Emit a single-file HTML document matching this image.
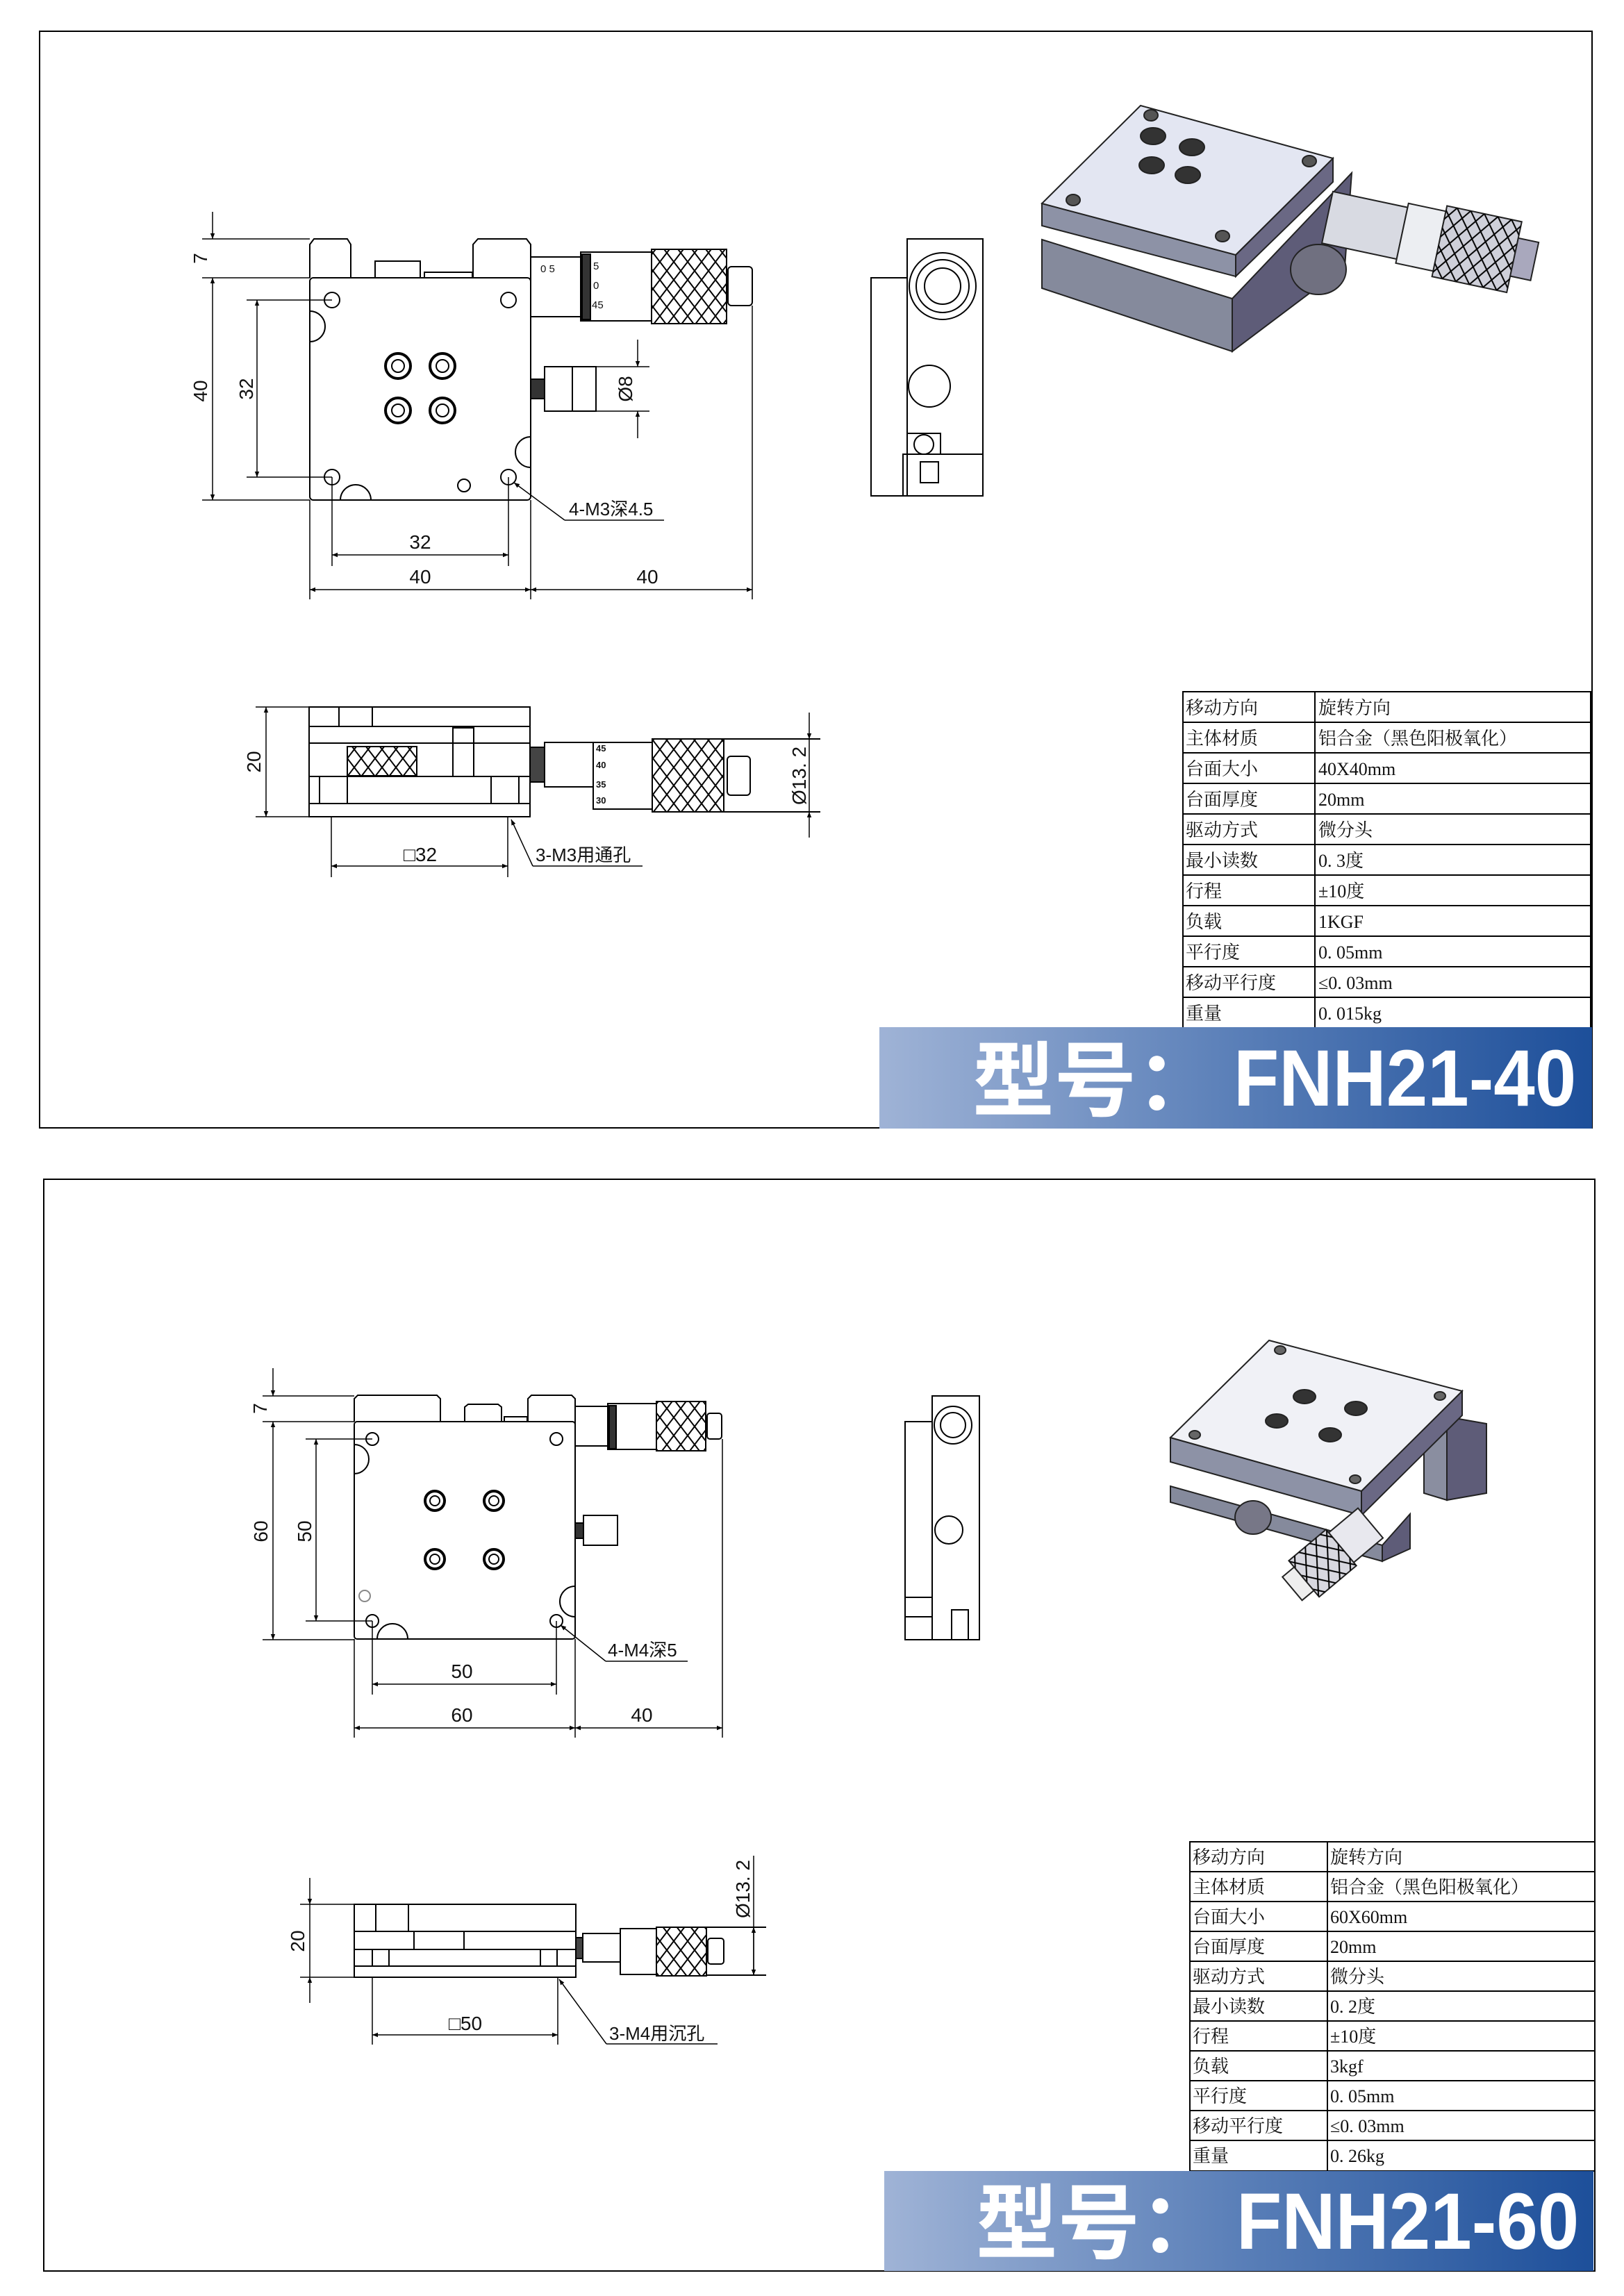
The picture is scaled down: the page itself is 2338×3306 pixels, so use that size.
<!DOCTYPE html>
<html><head><meta charset="utf-8"><style>
html,body{margin:0;padding:0;background:#fff}
svg{display:block}
.t{font-family:"Liberation Sans","Noto Sans CJK SC",sans-serif;fill:#111}
.c{font-family:"Liberation Serif","Noto Serif CJK SC",serif;font-size:26px;fill:#111}
.b{font-family:"Liberation Sans","Noto Sans CJK SC",sans-serif;font-weight:bold;fill:#fff}
</style></head><body>
<svg width="2338" height="3306" viewBox="0 0 2338 3306" xmlns="http://www.w3.org/2000/svg">
<defs>
<linearGradient id="g" x1="0" x2="1" y1="0" y2="0"><stop offset="0" stop-color="#9fb3d6"/><stop offset="0.5" stop-color="#5a7fb8"/><stop offset="1" stop-color="#1d4f9a"/></linearGradient>
<marker id="a" viewBox="0 0 10 10" refX="10" refY="5" markerWidth="12" markerHeight="8" orient="auto-start-reverse" markerUnits="userSpaceOnUse"><path d="M0,1 L10,5 L0,9 z" fill="#000"/></marker>
<pattern id="k" width="20" height="26" patternUnits="userSpaceOnUse"><path d="M0,0 L20,26 M20,0 L0,26" stroke="#000" stroke-width="2"/></pattern>
</defs>
<g fill="none" stroke="#000" stroke-width="2">
<rect x="57" y="45" width="2235" height="1579"/>
<rect x="63" y="1698" width="2233" height="1572"/>
</g>

<!-- ===== FRAME 1 top view ===== -->
<g fill="none" stroke="#000" stroke-width="2">
<path d="M446,400 V352 L452,344 H500 L505,352 V400"/>
<path d="M681,400 V352 L688,344 H758 L764,352 V400"/>
<rect x="540" y="376" width="65" height="24"/>
<rect x="611" y="392" width="69" height="8"/>
<rect x="446" y="400" width="318" height="320" rx="5"/>
<circle cx="478" cy="432" r="11"/><circle cx="732" cy="432" r="11"/>
<circle cx="478" cy="687" r="11"/><circle cx="732" cy="687" r="11"/>
<circle cx="668" cy="699" r="9"/>
<path d="M446,448 A22,22 0 0 1 446,492"/>
<path d="M764,629 A22,22 0 0 0 764,673"/>
<path d="M490,720 A22,22 0 0 1 534,720"/>
<g stroke-width="4"><circle cx="573" cy="527" r="18"/><circle cx="637" cy="527" r="18"/><circle cx="573" cy="591" r="18"/><circle cx="637" cy="591" r="18"/></g>
<g><circle cx="573" cy="527" r="9"/><circle cx="637" cy="527" r="9"/><circle cx="573" cy="591" r="9"/><circle cx="637" cy="591" r="9"/></g>
<rect x="764" y="370" width="72" height="86"/>
<rect x="836" y="363" width="102" height="99"/>
<rect x="838" y="366" width="12" height="94" fill="#333"/>
<rect x="938" y="359" width="108" height="107" fill="url(#k)"/>
<rect x="1048" y="384" width="35" height="56" rx="5"/>
<rect x="784" y="528" width="74" height="64"/>
<line x1="824" y1="528" x2="824" y2="592"/>
<rect x="764" y="546" width="20" height="28" fill="#333"/>
</g>
<g class="t" font-size="15"><text x="778" y="392">0 5</text><text x="854" y="388">5</text><text x="854" y="416">0</text><text x="852" y="444">45</text></g>
<g fill="none" stroke="#000" stroke-width="1.5">
<line x1="291" y1="344" x2="446" y2="344"/><line x1="291" y1="400" x2="446" y2="400"/><line x1="291" y1="720" x2="446" y2="720"/>
<line x1="306" y1="305" x2="306" y2="344" marker-end="url(#a)"/>
<line x1="306" y1="400" x2="306" y2="720" marker-start="url(#a)" marker-end="url(#a)"/>
<line x1="355" y1="432" x2="478" y2="432"/><line x1="355" y1="687" x2="478" y2="687"/>
<line x1="370" y1="432" x2="370" y2="687" marker-start="url(#a)" marker-end="url(#a)"/>
<line x1="478" y1="687" x2="478" y2="815"/><line x1="732" y1="687" x2="732" y2="815"/>
<line x1="478" y1="799" x2="732" y2="799" marker-start="url(#a)" marker-end="url(#a)"/>
<line x1="446" y1="720" x2="446" y2="863"/><line x1="764" y1="720" x2="764" y2="863"/><line x1="1083" y1="440" x2="1083" y2="863"/>
<line x1="446" y1="849" x2="764" y2="849" marker-start="url(#a)" marker-end="url(#a)"/>
<line x1="764" y1="849" x2="1083" y2="849" marker-start="url(#a)" marker-end="url(#a)"/>
<line x1="858" y1="528" x2="935" y2="528"/><line x1="858" y1="592" x2="935" y2="592"/>
<line x1="918" y1="489" x2="918" y2="528" marker-end="url(#a)"/>
<line x1="918" y1="631" x2="918" y2="592" marker-end="url(#a)"/>
<line x1="813" y1="749" x2="740" y2="695" marker-end="url(#a)"/><line x1="813" y1="749" x2="956" y2="749"/>
</g>
<g class="t" font-size="28">
<text transform="translate(298,372) rotate(-90)" text-anchor="middle">7</text>
<text transform="translate(298,563) rotate(-90)" text-anchor="middle">40</text>
<text transform="translate(364,560) rotate(-90)" text-anchor="middle">32</text>
<text transform="translate(910,560) rotate(-90)" text-anchor="middle">Ø8</text>
<text x="605" y="790" text-anchor="middle">32</text>
<text x="605" y="840" text-anchor="middle">40</text>
<text x="932" y="840" text-anchor="middle">40</text>
<text x="819" y="742" font-size="26">4-M3深4.5</text>
</g>
<g fill="none" stroke="#000" stroke-width="2">
<rect x="1254" y="400" width="52" height="314"/>
<rect x="1306" y="344" width="109" height="370"/>
<circle cx="1357" cy="412" r="48"/><circle cx="1357" cy="412" r="38"/><circle cx="1357" cy="412" r="26"/>
<circle cx="1338" cy="556" r="30"/>
<rect x="1306" y="624" width="48" height="30"/><circle cx="1330" cy="640" r="14"/>
<rect x="1300" y="654" width="115" height="60"/>
<rect x="1325" y="665" width="26" height="30"/>
</g>
<g stroke="#222" stroke-width="2">
<polygon points="1500,345 1774,430 1774,506 1500,415" fill="#858a9c"/>
<polygon points="1774,430 1946,249 1936,384 1774,506" fill="#5e5c78"/>
<polygon points="1500,293 1779,367 1779,398 1500,325" fill="#8d92a6"/>
<polygon points="1919,228 1919,262 1779,398 1779,367" fill="#6a6884"/>
<polygon points="1642,152 1919,228 1779,367 1500,293" fill="#e3e6f2"/>
<g transform="translate(1911,313) rotate(12)">
<rect x="0" y="-38" width="110" height="76" fill="#d8dae2"/>
<rect x="110" y="-44" width="55" height="88" fill="#eceef2"/>
<rect x="165" y="-52" width="110" height="104" fill="#cfd0da"/>
<rect x="165" y="-52" width="110" height="104" fill="url(#k)" stroke="none"/>
<rect x="275" y="-28" width="30" height="56" fill="#a9a8bd"/>
</g>
<ellipse cx="1898" cy="388" rx="40" ry="36" fill="#707080"/>
<ellipse cx="1658" cy="238" rx="18" ry="12" fill="#333"/><ellipse cx="1710" cy="252" rx="18" ry="12" fill="#333"/>
<ellipse cx="1660" cy="196" rx="18" ry="12" fill="#333"/><ellipse cx="1716" cy="212" rx="18" ry="12" fill="#333"/>
<ellipse cx="1545" cy="288" rx="10" ry="8" fill="#555"/><ellipse cx="1885" cy="232" rx="10" ry="8" fill="#555"/>
<ellipse cx="1657" cy="166" rx="10" ry="8" fill="#555"/><ellipse cx="1760" cy="340" rx="10" ry="8" fill="#555"/>
</g>

<g fill="none" stroke="#000" stroke-width="2">
<rect x="445" y="1018" width="318" height="158"/>
<line x1="445" y1="1046" x2="763" y2="1046"/><line x1="445" y1="1070" x2="763" y2="1070"/>
<line x1="445" y1="1118" x2="763" y2="1118"/><line x1="445" y1="1157" x2="763" y2="1157"/>
<line x1="488" y1="1018" x2="488" y2="1046"/><line x1="536" y1="1018" x2="536" y2="1046"/>
<rect x="460" y="1118" width="40" height="39"/><rect x="707" y="1118" width="40" height="39"/>
<rect x="500" y="1075" width="100" height="42" fill="url(#k)"/>
<rect x="652" y="1048" width="30" height="70"/>
<rect x="763" y="1076" width="21" height="50" fill="#444"/>
<rect x="784" y="1069" width="70" height="64"/>
<rect x="854" y="1069" width="85" height="96"/>
<rect x="939" y="1064" width="103" height="105" fill="url(#k)"/>
<rect x="1047" y="1089" width="33" height="56" rx="5"/>
<line x1="1042" y1="1064" x2="1181" y2="1064"/><line x1="1042" y1="1169" x2="1181" y2="1169"/>
</g>
<g class="t" font-size="13" font-weight="bold"><text x="858" y="1082">45</text><text x="858" y="1106">40</text><text x="858" y="1134">35</text><text x="858" y="1157">30</text></g>
<g fill="none" stroke="#000" stroke-width="1.5">
<line x1="368" y1="1018" x2="445" y2="1018"/><line x1="368" y1="1176" x2="445" y2="1176"/>
<line x1="383" y1="1018" x2="383" y2="1176" marker-start="url(#a)" marker-end="url(#a)"/>
<line x1="1165" y1="1026" x2="1165" y2="1064" marker-end="url(#a)"/>
<line x1="1165" y1="1206" x2="1165" y2="1169" marker-end="url(#a)"/>
<line x1="1165" y1="1064" x2="1165" y2="1169"/>
<line x1="477" y1="1176" x2="477" y2="1263"/><line x1="731" y1="1176" x2="731" y2="1263"/>
<line x1="477" y1="1247" x2="731" y2="1247" marker-start="url(#a)" marker-end="url(#a)"/>
<line x1="767" y1="1247" x2="736" y2="1180" marker-end="url(#a)"/><line x1="767" y1="1247" x2="925" y2="1247"/>
</g>
<g class="t" font-size="28">
<text transform="translate(375,1097) rotate(-90)" text-anchor="middle">20</text>
<text transform="translate(1160,1117) rotate(-90)" text-anchor="middle">Ø13. 2</text>
<text x="605" y="1240" text-anchor="middle">□32</text>
<text x="771" y="1240" font-size="26">3-M3用通孔</text>
</g>

<g fill="none" stroke="#000" stroke-width="2">
<rect x="1703" y="996" width="587" height="484"/>
<line x1="1893" y1="996" x2="1893" y2="1480"/>
<path d="M1703,1040H2290M1703,1084H2290M1703,1128H2290M1703,1172H2290M1703,1216H2290M1703,1260H2290M1703,1304H2290M1703,1348H2290M1703,1392H2290M1703,1436H2290"/>
</g>
<g class="c">
<text x="1707" y="1028">移动方向</text><text x="1898" y="1028">旋转方向</text>
<text x="1707" y="1072">主体材质</text><text x="1898" y="1072">铝合金（黑色阳极氧化）</text>
<text x="1707" y="1116">台面大小</text><text x="1898" y="1116">40X40mm</text>
<text x="1707" y="1160">台面厚度</text><text x="1898" y="1160">20mm</text>
<text x="1707" y="1204">驱动方式</text><text x="1898" y="1204">微分头</text>
<text x="1707" y="1248">最小读数</text><text x="1898" y="1248">0. 3度</text>
<text x="1707" y="1292">行程</text><text x="1898" y="1292">±10度</text>
<text x="1707" y="1336">负载</text><text x="1898" y="1336">1KGF</text>
<text x="1707" y="1380">平行度</text><text x="1898" y="1380">0. 05mm</text>
<text x="1707" y="1424">移动平行度</text><text x="1898" y="1424">≤0. 03mm</text>
<text x="1707" y="1468">重量</text><text x="1898" y="1468">0. 015kg</text>
</g>
<rect x="1266" y="1479" width="1026" height="146" fill="url(#g)"/>
<text class="b" x="1400" y="1598" font-size="118">型号：</text>
<text class="b" x="1776" y="1592" font-size="115" transform="translate(1776,0) scale(0.93,1) translate(-1776,0)">FNH21-40</text>

<!-- ===== FRAME 2 ===== -->
<g fill="none" stroke="#000" stroke-width="2">
<path d="M510,2047 V2014 L515,2009 H629 L634,2014 V2047"/>
<path d="M760,2047 V2014 L765,2009 H823 L828,2014 V2047"/>
<path d="M669,2047 V2026 L674,2022 H717 L722,2026 V2047"/>
<rect x="726" y="2040" width="33" height="7"/>
<rect x="510" y="2047" width="318" height="313" rx="4"/>
<circle cx="536" cy="2072" r="9"/><circle cx="801" cy="2072" r="9"/>
<circle cx="536" cy="2334" r="9"/><circle cx="801" cy="2334" r="9"/>
<circle cx="525" cy="2298" r="8" stroke="#888"/>
<path d="M510,2080 A21,21 0 0 1 510,2122"/>
<path d="M828,2284 A22,22 0 0 0 828,2328"/>
<path d="M543,2360 A22,22 0 0 1 587,2360"/>
<g stroke-width="4"><circle cx="626" cy="2161" r="14"/><circle cx="711" cy="2161" r="14"/><circle cx="626" cy="2245" r="14"/><circle cx="711" cy="2245" r="14"/></g>
<g><circle cx="626" cy="2161" r="7"/><circle cx="711" cy="2161" r="7"/><circle cx="626" cy="2245" r="7"/><circle cx="711" cy="2245" r="7"/></g>
<rect x="828" y="2025" width="47" height="57"/>
<rect x="875" y="2021" width="70" height="66"/>
<rect x="877" y="2024" width="10" height="62" fill="#333"/>
<rect x="945" y="2018" width="71" height="71" fill="url(#k)"/>
<rect x="1018" y="2035" width="21" height="37" rx="4"/>
<rect x="840" y="2182" width="49" height="43"/>
<rect x="828" y="2193" width="12" height="22" fill="#333"/>
</g>
<g fill="none" stroke="#000" stroke-width="1.5">
<line x1="378" y1="2010" x2="510" y2="2010"/><line x1="378" y1="2047" x2="510" y2="2047"/><line x1="378" y1="2361" x2="510" y2="2361"/>
<line x1="393" y1="1970" x2="393" y2="2010" marker-end="url(#a)"/>
<line x1="393" y1="2047" x2="393" y2="2361" marker-start="url(#a)" marker-end="url(#a)"/>
<line x1="440" y1="2072" x2="536" y2="2072"/><line x1="440" y1="2334" x2="536" y2="2334"/>
<line x1="455" y1="2072" x2="455" y2="2334" marker-start="url(#a)" marker-end="url(#a)"/>
<line x1="536" y1="2334" x2="536" y2="2440"/><line x1="801" y1="2334" x2="801" y2="2440"/>
<line x1="536" y1="2425" x2="801" y2="2425" marker-start="url(#a)" marker-end="url(#a)"/>
<line x1="510" y1="2360" x2="510" y2="2502"/><line x1="828" y1="2360" x2="828" y2="2502"/><line x1="1040" y1="2072" x2="1040" y2="2502"/>
<line x1="510" y1="2488" x2="828" y2="2488" marker-start="url(#a)" marker-end="url(#a)"/>
<line x1="828" y1="2488" x2="1040" y2="2488" marker-start="url(#a)" marker-end="url(#a)"/>
<line x1="872" y1="2392" x2="807" y2="2340" marker-end="url(#a)"/><line x1="872" y1="2392" x2="990" y2="2392"/>
</g>
<g class="t" font-size="28">
<text transform="translate(384,2028) rotate(-90)" text-anchor="middle">7</text>
<text transform="translate(385,2205) rotate(-90)" text-anchor="middle">60</text>
<text transform="translate(448,2205) rotate(-90)" text-anchor="middle">50</text>
<text x="665" y="2416" text-anchor="middle">50</text>
<text x="665" y="2479" text-anchor="middle">60</text>
<text x="924" y="2479" text-anchor="middle">40</text>
<text x="875" y="2385" font-size="26">4-M4深5</text>
</g>
<g fill="none" stroke="#000" stroke-width="2">
<rect x="1303" y="2047" width="39" height="314"/>
<rect x="1342" y="2010" width="68" height="351"/>
<circle cx="1372" cy="2052" r="27"/><circle cx="1372" cy="2052" r="18"/>
<circle cx="1366" cy="2203" r="20"/>
<rect x="1303" y="2300" width="39" height="28"/>
<rect x="1370" y="2318" width="24" height="43"/>
</g>
<g stroke="#222" stroke-width="2">
<polygon points="2083,2040 2140,2050 2140,2150 2083,2160" fill="#5e5c78"/>
<polygon points="2050,2040 2083,2040 2083,2160 2050,2150" fill="#8a8ea0"/>
<polygon points="1685,2140 1990,2225 1990,2248 1685,2163" fill="#858a9c"/>
<polygon points="1990,2225 2030,2180 2030,2230 1990,2248" fill="#5e5c78"/>
<polygon points="1685,2070 1960,2147 1960,2182 1685,2105" fill="#8d92a6"/>
<polygon points="2105,2003 2105,2038 1960,2182 1960,2147" fill="#6a6884"/>
<polygon points="1827,1930 2105,2003 1960,2147 1685,2070" fill="#f0f1f6"/>
<ellipse cx="1804" cy="2185" rx="26" ry="24" fill="#777787"/>
<g transform="translate(1973,2193) rotate(140)">
<rect x="0" y="-28" width="55" height="56" fill="#e8e8ee"/>
<rect x="55" y="-34" width="70" height="68" fill="#d8d8e0"/>
<rect x="55" y="-34" width="70" height="68" fill="url(#k)" stroke="none"/>
<rect x="125" y="-22" width="22" height="44" fill="#eee"/>
</g>
<ellipse cx="1878" cy="2011" rx="16" ry="10" fill="#333"/><ellipse cx="1952" cy="2028" rx="16" ry="10" fill="#333"/>
<ellipse cx="1838" cy="2046" rx="16" ry="10" fill="#333"/><ellipse cx="1915" cy="2066" rx="16" ry="10" fill="#333"/>
<ellipse cx="1720" cy="2066" rx="8" ry="6" fill="#666"/><ellipse cx="2073" cy="2010" rx="8" ry="6" fill="#666"/>
<ellipse cx="1843" cy="1944" rx="8" ry="6" fill="#666"/><ellipse cx="1951" cy="2130" rx="8" ry="6" fill="#666"/>
</g>
<g fill="none" stroke="#000" stroke-width="2">
<rect x="510" y="2742" width="319" height="105"/>
<line x1="510" y1="2781" x2="829" y2="2781"/><line x1="510" y1="2807" x2="829" y2="2807"/><line x1="510" y1="2831" x2="829" y2="2831"/>
<line x1="541" y1="2742" x2="541" y2="2781"/><line x1="588" y1="2742" x2="588" y2="2781"/>
<line x1="596" y1="2781" x2="596" y2="2807"/><line x1="668" y1="2781" x2="668" y2="2807"/>
<rect x="536" y="2807" width="24" height="24"/><rect x="778" y="2807" width="24" height="24"/>
<rect x="829" y="2790" width="10" height="30" fill="#444"/>
<rect x="839" y="2784" width="54" height="41"/>
<rect x="893" y="2777" width="52" height="66"/>
<rect x="945" y="2775" width="72" height="70" fill="url(#k)"/>
<rect x="1019" y="2791" width="23" height="37" rx="4"/>
<line x1="1017" y1="2775" x2="1103" y2="2775"/><line x1="1017" y1="2844" x2="1103" y2="2844"/>
</g>
<g fill="none" stroke="#000" stroke-width="1.5">
<line x1="432" y1="2742" x2="510" y2="2742"/><line x1="432" y1="2847" x2="510" y2="2847"/>
<line x1="446" y1="2704" x2="446" y2="2742" marker-end="url(#a)"/>
<line x1="446" y1="2884" x2="446" y2="2847" marker-end="url(#a)"/>
<line x1="446" y1="2742" x2="446" y2="2847"/>
<line x1="1085" y1="2672" x2="1085" y2="2844" marker-end="url(#a)"/>
<line x1="1085" y1="2775" x2="1085" y2="2844" marker-start="url(#a)"/>
<line x1="536" y1="2847" x2="536" y2="2944"/><line x1="803" y1="2847" x2="803" y2="2944"/>
<line x1="536" y1="2930" x2="803" y2="2930" marker-start="url(#a)" marker-end="url(#a)"/>
<line x1="873" y1="2943" x2="805" y2="2850" marker-end="url(#a)"/><line x1="873" y1="2943" x2="1033" y2="2943"/>
</g>
<g class="t" font-size="28">
<text transform="translate(438,2795) rotate(-90)" text-anchor="middle">20</text>
<text transform="translate(1079,2720) rotate(-90)" text-anchor="middle">Ø13. 2</text>
<text x="670" y="2923" text-anchor="middle">□50</text>
<text x="877" y="2937" font-size="26">3-M4用沉孔</text>
</g>
<g fill="none" stroke="#000" stroke-width="2">
<rect x="1713" y="2652" width="583" height="474"/>
<line x1="1911" y1="2652" x2="1911" y2="3126"/>
<path d="M1713,2695H2296M1713,2738H2296M1713,2781H2296M1713,2824H2296M1713,2867H2296M1713,2910H2296M1713,2953H2296M1713,2996H2296M1713,3039H2296M1713,3082H2296"/>
</g>
<g class="c">
<text x="1717" y="2683">移动方向</text><text x="1915" y="2683">旋转方向</text>
<text x="1717" y="2726">主体材质</text><text x="1915" y="2726">铝合金（黑色阳极氧化）</text>
<text x="1717" y="2769">台面大小</text><text x="1915" y="2769">60X60mm</text>
<text x="1717" y="2812">台面厚度</text><text x="1915" y="2812">20mm</text>
<text x="1717" y="2855">驱动方式</text><text x="1915" y="2855">微分头</text>
<text x="1717" y="2898">最小读数</text><text x="1915" y="2898">0. 2度</text>
<text x="1717" y="2941">行程</text><text x="1915" y="2941">±10度</text>
<text x="1717" y="2984">负载</text><text x="1915" y="2984">3kgf</text>
<text x="1717" y="3027">平行度</text><text x="1915" y="3027">0. 05mm</text>
<text x="1717" y="3070">移动平行度</text><text x="1915" y="3070">≤0. 03mm</text>
<text x="1717" y="3113">重量</text><text x="1915" y="3113">0. 26kg</text>
</g>
<rect x="1273" y="3126" width="1021" height="144" fill="url(#g)"/>
<text class="b" x="1405" y="3243" font-size="118">型号：</text>
<text class="b" x="1780" y="3238" font-size="115" transform="translate(1780,0) scale(0.93,1) translate(-1780,0)">FNH21-60</text>
</svg>
</body></html>
